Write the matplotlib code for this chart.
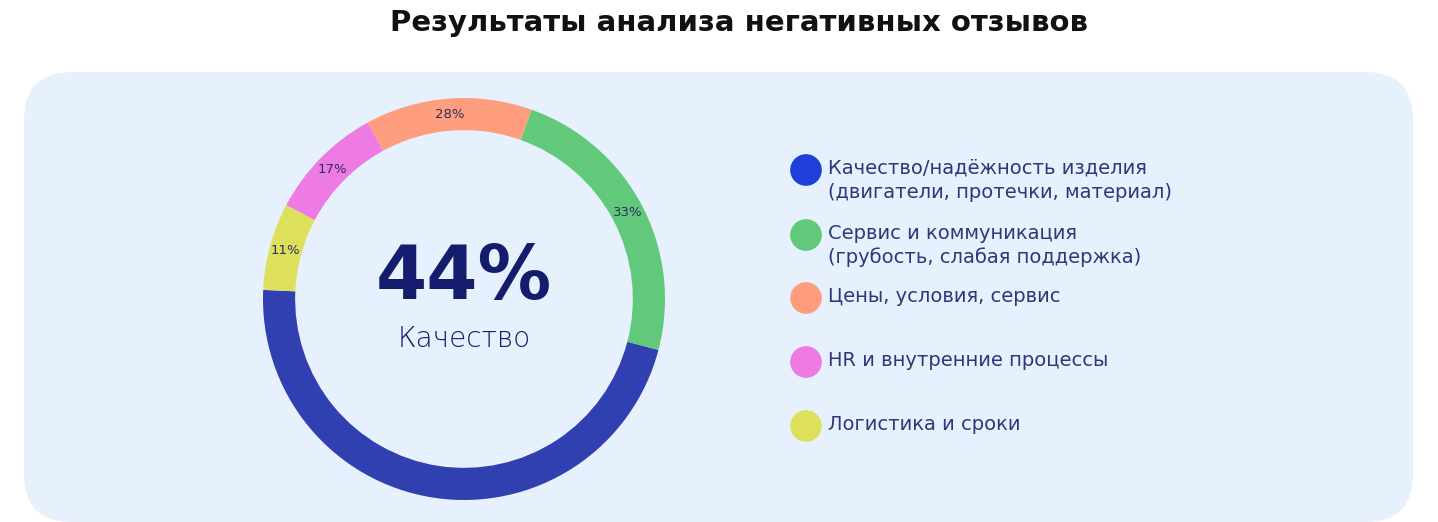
import matplotlib
matplotlib.use("Agg")
import matplotlib.pyplot as plt
from matplotlib.patches import FancyBboxPatch
import numpy as np

plt.rcParams['font.family'] = ['DejaVu Sans']

# shares measured from the ring (degrees -> percent), labels as printed
categories = ["Качество/надёжность изделия\n(двигатели, протечки, материал)",
              "Сервис и коммуникация\n(грубость, слабая поддержка)",
              "Цены, условия, сервис",
              "HR и внутренние процессы",
              "Логистика и сроки"]
shares = [46.6, 23.6, 13.4, 9.3, 7.0]
pct_labels = ["", "33%", "28%", "17%", "11%"]
ring_colors = ["#3040B0", "#62C97B", "#FF9E7E", "#EE7AE3", "#DDE05A"]
dot_colors = ["#1F3FDB", "#62C97B", "#FF9E7E", "#EE7AE3", "#DDE05A"]
legend_y = [170, 235, 298, 362, 426]
center_value = "44%"
center_name = "Качество"
title = "Результаты анализа негативных отзывов"

W, H = 1438, 522
fig = plt.figure(figsize=(W / 100, H / 100), dpi=100)
fig.patch.set_facecolor("white")

# background axes in pixel coordinates
bg = fig.add_axes([0, 0, 1, 1])
bg.set_xlim(0, W)
bg.set_ylim(H, 0)
bg.axis("off")
panel = FancyBboxPatch((24, 72), 1389, 450, boxstyle="round,pad=0,rounding_size=48",
                       facecolor="#E7F0FD", edgecolor="none")
bg.add_patch(panel)

fig.text(739 / W, 1 - 23 / H, title, ha="center", va="center",
         fontsize=21, fontweight="bold", color="#111111")

# legend
bg.scatter([806] * len(legend_y), legend_y, s=520, c=dot_colors, zorder=3, linewidths=0)
for y, lab in zip(legend_y, categories):
    bg.text(828, y - 11, lab, ha="left", va="top", fontsize=14, color="#2E3878",
            linespacing=1.3)

# donut
cx, cy, r = 464, 299, 201
ax = fig.add_axes([(cx - r) / W, (H - cy - r) / H, 2 * r / W, 2 * r / H])
ax.set_facecolor("none")
wedges, _ = ax.pie(shares, colors=ring_colors, startangle=177.4, counterclock=True,
                   radius=1, wedgeprops=dict(width=0.16, linewidth=0))
for w, lab in zip(wedges, pct_labels):
    if not lab:
        continue
    ang = np.deg2rad((w.theta1 + w.theta2) / 2)
    ax.text(0.92 * np.cos(ang), 0.92 * np.sin(ang), lab, ha="center", va="center",
            fontsize=9.5, color="#2A2F5E")
ax.set_xlim(-1, 1)
ax.set_ylim(-1, 1)
ax.set_aspect("equal")
ax.axis("off")

ax.text(0, 0.1, center_value, ha="center", va="center", fontsize=53,
        fontweight="bold", color="#141C6E")
ax.text(0, -0.2, center_name, ha="center", va="center", fontsize=20,
        fontweight="light", color="#141C6E")

fig.savefig("out.png", dpi=100, facecolor="white")
